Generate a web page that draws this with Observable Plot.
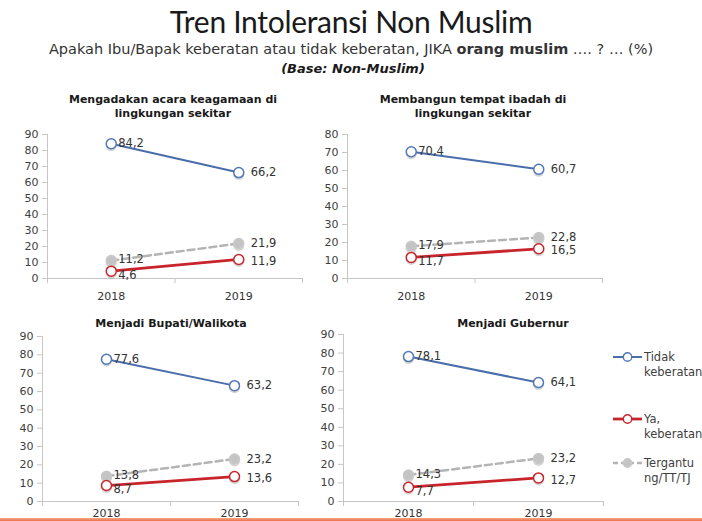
<!DOCTYPE html>
<html><head><meta charset="utf-8">
<script src="https://cdn.jsdelivr.net/npm/d3@7"></script>
<script src="https://cdn.jsdelivr.net/npm/@observablehq/plot@0.6"></script>
<style>
body{margin:0;background:#fff;}
#root{position:relative;width:702px;height:521px;overflow:hidden;font-family:"DejaVu Sans",sans-serif;color:#333;background:#fff}
.abs{position:absolute}
.ptitle{position:absolute;width:300px;text-align:center;font-weight:bold;font-size:11px;line-height:14px;color:#1a1a1a}
.leg{position:absolute;font-size:11.5px;line-height:15px;color:#404040;white-space:nowrap}
</style></head><body><div id="root"></div>
<script>
// ---- data ----
const years = [2018, 2019];
const panelTitles = [
  ["Mengadakan acara keagamaan di", "lingkungan sekitar"],
  ["Membangun tempat ibadah di", "lingkungan sekitar"],
  ["Menjadi Bupati/Walikota"],
  ["Menjadi Gubernur"]
];
const yMax = [90, 80, 90, 90];
const seriesNames = ["Tidak keberatan", "Ya, keberatan", "Tergantung/TT/TJ"];
const legendLines = [["Tidak", "keberatan"], ["Ya,", "keberatan"], ["Tergantu", "ng/TT/TJ"]];
const tidak = [[84.2, 66.2], [70.4, 60.7], [77.6, 63.2], [78.1, 64.1]];
const ya = [[4.6, 11.9], [11.7, 16.5], [8.7, 13.6], [7.7, 12.7]];
const tergantung = [[11.2, 21.9], [17.9, 22.8], [13.8, 23.2], [14.3, 23.2]];
const valuesBySeries = [tidak, ya, tergantung];

// ---- styles ----
const seriesStyle = [
  {stroke: "#4a6dab", width: 2, dash: null, fill: "#fff", mstroke: "#4f77b8", labelDy: 0},
  {stroke: "#c8242b", width: 2.8, dash: null, fill: "#fff", mstroke: "#c8242b", labelDy: 4},
  {stroke: "#b4b4b4", width: 2.5, dash: "7,4", fill: "#c4c4c4", mstroke: "#c9c9c9", labelDy: -1}
];
const layout = [
  {left: 0, top: 124, width: 330, height: 184, marginLeft: 47, marginRight: 28, titleX: 173, titleTop: 93, pad: 14},
  {left: 300, top: 124, width: 330, height: 184, marginLeft: 47, marginRight: 28, titleX: 473, titleTop: 93, pad: 14},
  {left: 0, top: 326, width: 330, height: 195, marginLeft: 42, marginRight: 32, titleX: 171, titleTop: 317, pad: 8},
  {left: 296, top: 324, width: 317, height: 197, marginLeft: 47, marginRight: 10, titleX: 513, titleTop: 317, pad: 8}
];
const fmt = v => v.toFixed(1).replace(".", ",");
const root = document.getElementById("root");

function addDiv(cls, css, html) {
  const d = document.createElement("div");
  d.className = cls;
  Object.assign(d.style, css);
  d.innerHTML = html;
  root.appendChild(d);
  return d;
}

// title
addDiv("abs", {left: "0px", top: "3px", width: "702px", textAlign: "center", fontFamily: "Lato, 'Open Sans', sans-serif", fontSize: "30px", color: "#1a1a1a", letterSpacing: "-0.3px"}, "Tren Intoleransi Non Muslim");
addDiv("abs", {left: "0px", top: "41px", width: "702px", textAlign: "center", fontSize: "14.5px", color: "#333"}, "Apakah Ibu/Bapak keberatan atau tidak keberatan, JIKA <b>orang muslim</b> …. ? … (%)");
addDiv("abs", {left: "0px", top: "61px", width: "706px", textAlign: "center", fontSize: "13px", fontWeight: "bold", fontStyle: "italic", color: "#1a1a1a"}, "(Base: Non-Muslim)");

const xDomain = [2017.5, 2019.5];
const bounds = [2017.5, 2018.5, 2019.5];

layout.forEach((L, i) => {
  addDiv("ptitle", {left: (L.titleX - 150) + "px", top: L.titleTop + "px"}, panelTitles[i].join("<br>"));
  const rows = [];
  seriesNames.forEach((s, si) => years.forEach((yr, yi) => rows.push({series: s, si, year: yr, value: valuesBySeries[si][i][yi]})));
  const marginBottom = L.top + L.height - (i < 2 ? 278 : 501);
  const marks = [
    Plot.ruleY([0], {stroke: "#c6c6c6"}),
    Plot.ruleX([xDomain[0]], {stroke: "#c6c6c6"}),
    Plot.axisY({ticks: d3.range(0, yMax[i] + 1, 10), tickSize: 5, tickPadding: 4, stroke: "#c6c6c6", fill: "#404040", fontSize: 11, label: null}),
    Plot.axisX({ticks: bounds, tickSize: 5, tickFormat: () => "", stroke: "#c6c6c6", label: null}),
    Plot.axisX({ticks: years, tickSize: 0, tickPadding: L.pad, tickFormat: d => String(d), fill: "#333", fontSize: 11, label: null})
  ];
  [2, 1, 0].forEach(si => {
    const st = seriesStyle[si];
    const data = rows.filter(r => r.si === si);
    marks.push(Plot.line(data, {x: "year", y: "value", stroke: st.stroke, strokeWidth: st.width, strokeDasharray: st.dash}));
  });
  [2, 1, 0].forEach(si => {
    const st = seriesStyle[si];
    const data = rows.filter(r => r.si === si);
    marks.push(Plot.dot(data, {x: "year", y: "value", r: 5.5, fill: "#8a8a8a", fillOpacity: 0.35, stroke: "none", dy: 2}));
    marks.push(Plot.dot(data, {x: "year", y: "value", r: 5, fill: st.fill, stroke: st.mstroke, strokeWidth: 1.5}));
  });
  seriesNames.forEach((s, si) => {
    const st = seriesStyle[si];
    years.forEach((yr, yi) => {
      marks.push(Plot.text(rows.filter(r => r.si === si && r.year === yr), {
        x: "year", y: "value", text: d => fmt(d.value),
        dx: yi === 0 ? 7 : 12, dy: yi === 0 ? st.labelDy : (si === 1 ? 2 : 0),
        textAnchor: "start", fill: "#333", fontSize: 11.5
      }));
    });
  });
  const chart = Plot.plot({
    width: L.width, height: L.height,
    marginLeft: L.marginLeft, marginRight: L.marginRight, marginTop: 10, marginBottom,
    x: {domain: xDomain},
    y: {domain: [0, yMax[i]]},
    style: {fontFamily: "DejaVu Sans, sans-serif", fontSize: "11px", color: "#404040", background: "transparent", overflow: "visible"},
    marks
  });
  chart.style.position = "absolute";
  chart.style.left = L.left + "px";
  chart.style.top = L.top + "px";
  root.appendChild(chart);
});

// legend
const legTops = [350, 412, 456];
seriesNames.forEach((s, si) => {
  const st = seriesStyle[si];
  const t = legTops[si];
  const svg = d3.create("svg").attr("width", 32).attr("height", 14)
    .style("position", "absolute").style("left", "612px").style("top", (t) + "px");
  svg.append("line").attr("x1", 1).attr("x2", 30).attr("y1", 7).attr("y2", 7)
    .attr("stroke", st.stroke).attr("stroke-width", st.width).attr("stroke-dasharray", st.dash ? "5,3" : null);
  svg.append("circle").attr("cx", 15.5).attr("cy", 7).attr("r", 4.2).attr("fill", st.fill).attr("stroke", st.mstroke).attr("stroke-width", 1.4);
  root.appendChild(svg.node());
  addDiv("leg", {left: "644px", top: t + "px"}, legendLines[si].join("<br>"));
});

// bottom decorative band
addDiv("abs", {left: "0px", top: "518px", width: "702px", height: "3px", background: "linear-gradient(to bottom, #f5a585, #ee7047)"}, "");
</script>
</body></html>
